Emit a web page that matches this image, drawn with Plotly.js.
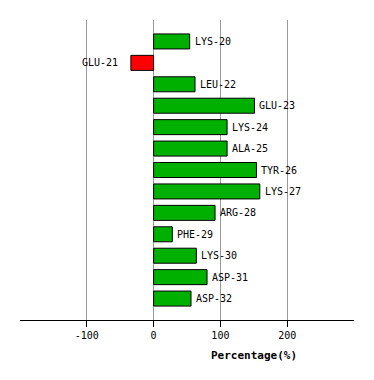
<!DOCTYPE html>
<html><head><meta charset="utf-8">
<script src="https://cdn.plot.ly/plotly-3.0.1.min.js"></script>
<style>html,body{margin:0;padding:0;background:#fff;}#chart{width:374px;height:380px;}</style>
</head><body><div id="chart"></div>
<script>
var residues = ["LYS-20","GLU-21","LEU-22","GLU-23","LYS-24","ALA-25","TYR-26","LYS-27","ARG-28","PHE-29","LYS-30","ASP-31","ASP-32"];
var percentages = [54, -34, 62, 151, 110, 110, 154, 159, 92, 28, 64, 80, 56];
var tickValues = [-100, 0, 100, 200];

var colors = percentages.map(function(v){ return v < 0 ? "#ff0000" : "#00b000"; });
var trace = {
  type: "bar",
  orientation: "h",
  x: percentages,
  y: residues,
  width: 0.7,
  marker: {color: colors, line: {color: "#000", width: 1}},
  hoverinfo: "none"
};
var labelAnnotations = residues.map(function(r, i){
  var neg = percentages[i] < 0;
  return {
    text: r, x: percentages[i], y: r, xref: "x", yref: "y",
    xanchor: neg ? "right" : "left", yanchor: "middle",
    xshift: neg ? -11 : 3, showarrow: false,
    font: {family: "DejaVu Sans Mono", size: 10, color: "#000"}
  };
});
labelAnnotations.push({
  text: "<b>Percentage(%)</b>",
  xref: "paper", yref: "paper",
  x: (254 - 20) / 334, y: -35 / 300,
  xanchor: "center", yanchor: "middle",
  showarrow: false,
  font: {family: "DejaVu Sans Mono", size: 11, color: "#000"}
});
var layout = {
  width: 374, height: 380,
  margin: {l: 20, r: 20, t: 20, b: 60},
  paper_bgcolor: "#fff", plot_bgcolor: "#fff",
  showlegend: false,
  xaxis: {
    range: [-200, 300],
    tickvals: tickValues,
    ticktext: tickValues.map(String),
    showgrid: true, gridcolor: "#999", gridwidth: 1,
    zeroline: false,
    showline: true, linecolor: "#000", linewidth: 1,
    ticks: "outside", ticklen: 6, tickcolor: "#000",
    tickfont: {family: "DejaVu Sans Mono", size: 10, color: "#000"},
    fixedrange: true
  },
  yaxis: {
    type: "category",
    range: [13, -1],
    showticklabels: false,
    showgrid: false, zeroline: false, showline: false, ticks: "",
    fixedrange: true
  },
  annotations: labelAnnotations
};
Plotly.newPlot("chart", [trace], layout, {displayModeBar: false, staticPlot: true});
</script></body></html>
